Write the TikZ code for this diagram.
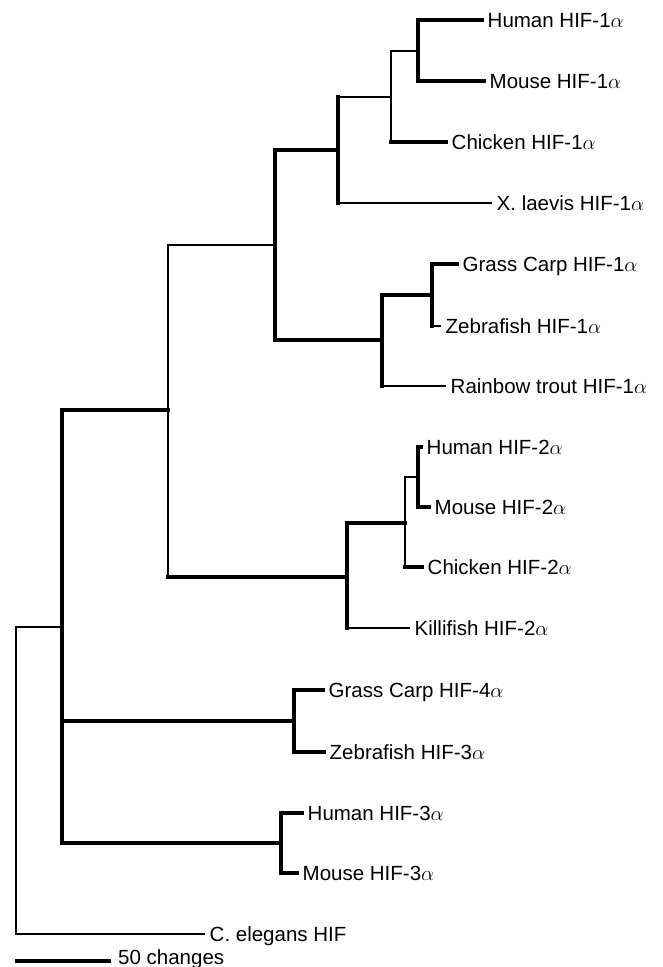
\documentclass[tikz,border=0pt]{standalone}
\usepackage{fontspec}
\setmainfont{Liberation Sans}
\usetikzlibrary{calc}
\tikzset{
  brthick/.style={line width=3.5pt,line cap=rect},
  brthin/.style={line width=2.2pt,line cap=rect},
  taxon/.style={anchor=west,inner xsep=5.5pt,inner ysep=0pt,text height=14.7pt,text depth=0pt,
    font=\fontsize{20.5}{24}\selectfont},
}

\begin{document}
\begin{tikzpicture}[x=1pt,y=-1pt]
  \useasboundingbox (0,0) rectangle (662,967);

  % inner nodes of the tree
  \coordinate (root) at (16,780);
  \coordinate (nA) at (62,627);
  \coordinate (nB) at (168,410);
  \coordinate (nC) at (275,245);
  \coordinate (nD) at (338,150);
  \coordinate (nE) at (391,97);
  \coordinate (nF) at (418,51);
  \coordinate (nG) at (382,340);
  \coordinate (nH) at (432,295);
  \coordinate (nI) at (347,577);
  \coordinate (nJ) at (405,523);
  \coordinate (nK) at (418,477);
  \coordinate (nL) at (294,721);
  \coordinate (nM) at (281,843);

  % taxa
  \node[taxon] (hum1) at (482,20) {Human HIF-1$\alpha$};
  \node[taxon] (mou1) at (484,81) {Mouse HIF-1$\alpha$};
  \node[taxon] (chi1) at (446,142) {Chicken HIF-1$\alpha$};
  \node[taxon] (xla1) at (491,203) {X. laevis HIF-1$\alpha$};
  \node[taxon] (gca1) at (457,264) {Grass Carp HIF-1$\alpha$};
  \node[taxon] (zeb1) at (440,326) {Zebrafish HIF-1$\alpha$};
  \node[taxon] (rtr1) at (445,386) {Rainbow trout HIF-1$\alpha$};
  \node[taxon] (hum2) at (421,447) {Human HIF-2$\alpha$};
  \node[taxon] (mou2) at (429,507) {Mouse HIF-2$\alpha$};
  \node[taxon] (chi2) at (422,567) {Chicken HIF-2$\alpha$};
  \node[taxon] (kil2) at (409,628) {Killifish HIF-2$\alpha$};
  \node[taxon] (gca4) at (323,690) {Grass Carp HIF-4$\alpha$};
  \node[taxon] (zeb3) at (324,752) {Zebrafish HIF-3$\alpha$};
  \node[taxon] (hum3) at (302,813) {Human HIF-3$\alpha$};
  \node[taxon] (mou3) at (297,873) {Mouse HIF-3$\alpha$};
  \node[taxon] (cel) at (204,934) {C. elegans HIF};

  % verticals
  \draw[brthin] (root |- nA) -- (root |- cel);
  \draw[brthick] (nA |- nB) -- (nA |- nM);
  \draw[brthin] (nB |- nC) -- (nB |- nI);
  \draw[brthick] (nC |- nD) -- (nC |- nG);
  \draw[brthick] (nD |- nE) -- (nD |- xla1);
  \draw[brthin] (nE |- nF) -- (nE |- chi1);
  \draw[brthick] (nF |- hum1) -- (nF |- mou1);
  \draw[brthick] (nG |- nH) -- (nG |- rtr1);
  \draw[brthick] (nH |- gca1) -- (nH |- zeb1);
  \draw[brthick] (nI |- nJ) -- (nI |- kil2);
  \draw[brthin] (nJ |- nK) -- (nJ |- chi2);
  \draw[brthick] (nK |- hum2) -- (nK |- mou2);
  \draw[brthick] (nL |- gca4) -- (nL |- zeb3);
  \draw[brthick] (nM |- hum3) -- (nM |- mou3);

  % branches
  \draw[brthin] (root |- nA) -- (nA);
  \draw[brthick] (nA |- nB) -- (nB);
  \draw[brthin] (nB |- nC) -- (nC);
  \draw[brthick] (nC |- nD) -- (nD);
  \draw[brthin] (nD |- nE) -- (nE);
  \draw[brthin] (nE |- nF) -- (nF);
  \draw[brthick] (nF |- hum1) -- (hum1.west);
  \draw[brthick] (nF |- mou1) -- (mou1.west);
  \draw[brthick] (nE |- chi1) -- (chi1.west);
  \draw[brthin] (nD |- xla1) -- (xla1.west);
  \draw[brthick] (nC |- nG) -- (nG);
  \draw[brthick] (nG |- nH) -- (nH);
  \draw[brthick] (nH |- gca1) -- (gca1.west);
  \draw[brthin] (nH |- zeb1) -- (zeb1.west);
  \draw[brthin] (nG |- rtr1) -- (rtr1.west);
  \draw[brthick] (nB |- nI) -- (nI);
  \draw[brthick] (nI |- nJ) -- (nJ);
  \draw[brthin] (nJ |- nK) -- (nK);
  \draw[brthick] (nK |- hum2) -- (hum2.west);
  \draw[brthick] (nK |- mou2) -- (mou2.west);
  \draw[brthick] (nJ |- chi2) -- (chi2.west);
  \draw[brthin] (nI |- kil2) -- (kil2.west);
  \draw[brthick] (nA |- nL) -- (nL);
  \draw[brthick] (nL |- gca4) -- (gca4.west);
  \draw[brthick] (nL |- zeb3) -- (zeb3.west);
  \draw[brthick] (nA |- nM) -- (nM);
  \draw[brthick] (nM |- hum3) -- (hum3.west);
  \draw[brthick] (nM |- mou3) -- (mou3.west);
  \draw[brthin] (root |- cel) -- (cel.west);

  % scale bar
  \coordinate (barL) at (15,961);
  \coordinate (barR) at (111,961);
  \draw[brthick,line cap=butt] (barL) -- (barR);
  \node[anchor=base west,inner sep=0pt,font=\fontsize{20.5}{24}\selectfont] (barlbl) at (118,964) {50 changes};
\end{tikzpicture}
\end{document}
